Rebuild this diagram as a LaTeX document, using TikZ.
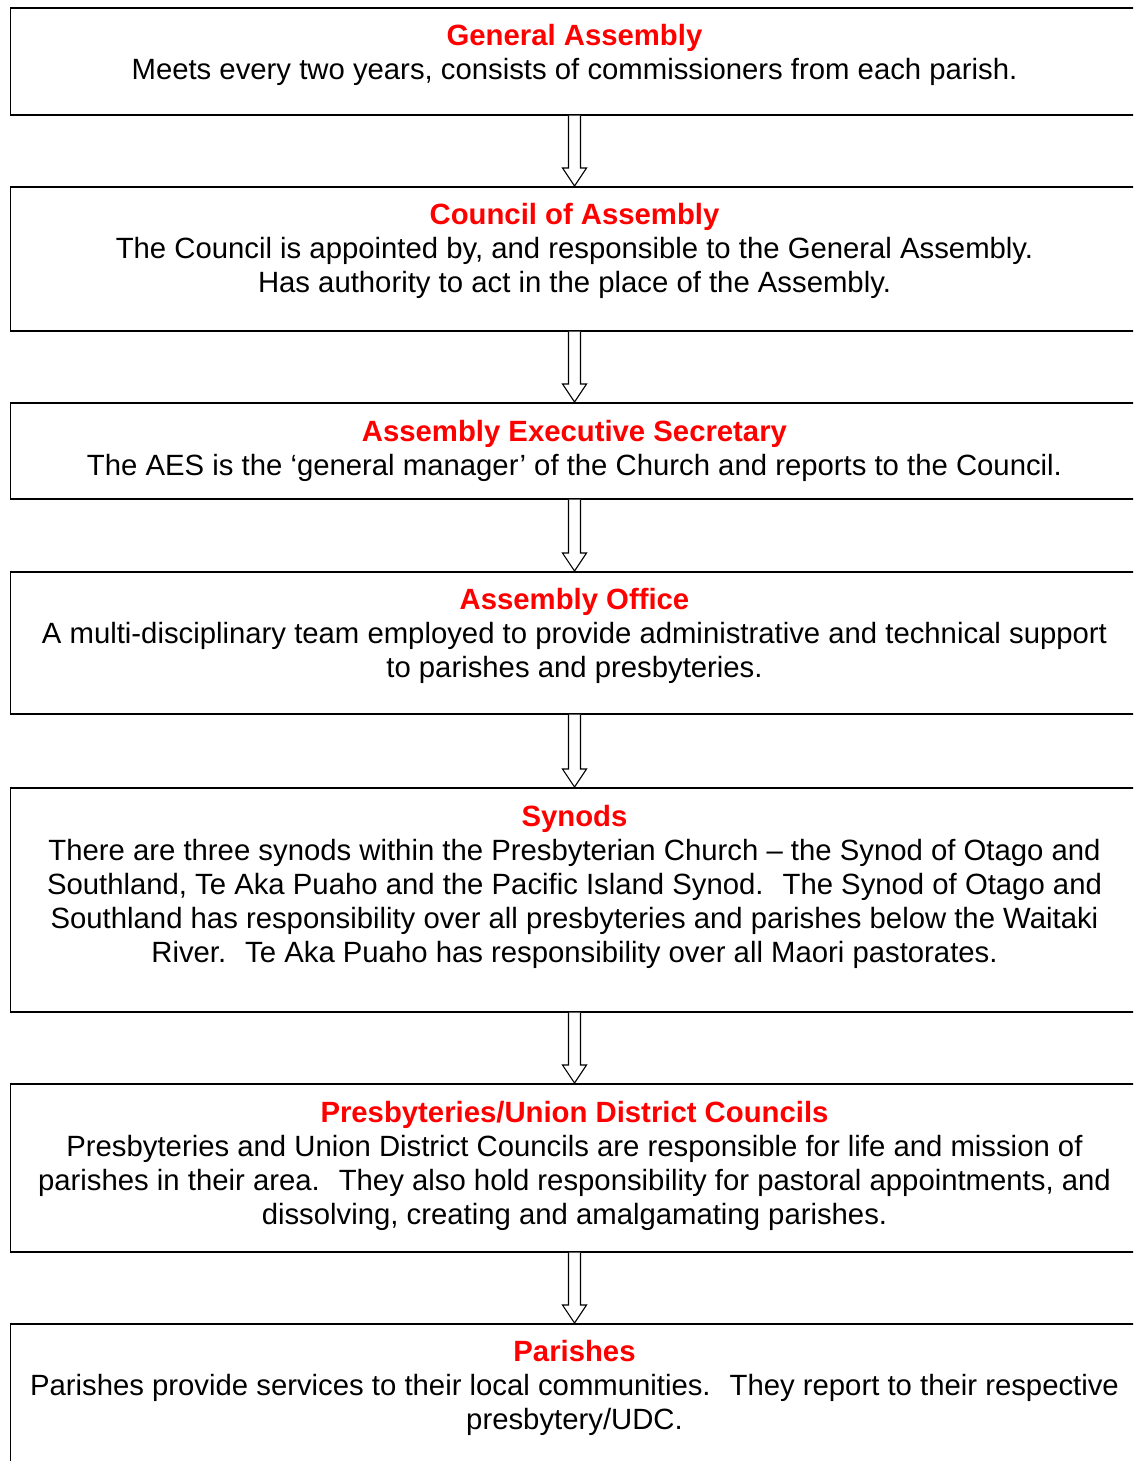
\documentclass[tikz,border=0pt]{standalone}
\usepackage{fontspec}
\setmainfont{Liberation Sans}
\usetikzlibrary{calc}
\definecolor{titlered}{RGB}{255,0,0}
\newcommand{\ttl}[1]{\textcolor{titlered}{\bfseries #1}}
\begin{document}
\begin{tikzpicture}[x=1pt,y=-1pt,
  box/.style={draw=black, line width=1.6pt, minimum width=1128pt, inner sep=0pt, anchor=north, fill=none},
  txt/.style={anchor=base, inner sep=0pt, font=\fontsize{29.3}{34}\selectfont},
  flowarrow/.style={draw=black, line width=1.1pt, fill=white, line join=miter}
]
\useasboundingbox (0,0) rectangle (1133,1461);
\clip (0,0) rectangle (1133,1461);
% boxes (centre x = 574.5)
\node[box, minimum height=107pt] (b1) at (574.5,7) {};
\node[box, minimum height=144pt] (b2) at (574.5,186) {};
\node[box, minimum height=96pt]  (b3) at (574.5,402) {};
\node[box, minimum height=142pt] (b4) at (574.5,571) {};
\node[box, minimum height=224pt] (b5) at (574.5,787) {};
\node[box, minimum height=168pt] (b6) at (574.5,1083) {};
\node[box, minimum height=200pt] (b7) at (574.5,1323) {};
% texts
\def\tt#1{\setlength{\tabcolsep}{0pt}\begin{tabular}[t]{c}#1\end{tabular}}
\node[txt] (t1) at ($(b1.north)+(0,39)$) {\tt{\ttl{General Assembly}\\Meets every two years, consists of commissioners from each parish.}};
\node[txt] (t2) at ($(b2.north)+(0,38)$) {\tt{\ttl{Council of Assembly}\\The Council is appointed by, and responsible to the General Assembly.\\Has authority to act in the place of the Assembly.}};
\node[txt] (t3) at ($(b3.north)+(0,39)$) {\tt{\ttl{Assembly Executive Secretary}\\The AES is the ‘general manager’ of the Church and reports to the Council.}};
\node[txt] (t4) at ($(b4.north)+(0,38.5)$) {\tt{\ttl{Assembly Office}\\A multi-disciplinary team employed to provide administrative and technical support\\to parishes and presbyteries.}};
\node[txt] (t5) at ($(b5.north)+(0,39)$) {\tt{\ttl{Synods}\\There are three synods within the Presbyterian Church – the Synod of Otago and\\Southland, Te Aka Puaho and the Pacific Island Synod.~ The Synod of Otago and\\Southland has responsibility over all presbyteries and parishes below the Waitaki\\River.~ Te Aka Puaho has responsibility over all Maori pastorates.}};
\node[txt] (t6) at ($(b6.north)+(0,39)$) {\tt{\ttl{Presbyteries/Union District Councils}\\Presbyteries and Union District Councils are responsible for life and mission of\\parishes in their area.~ They also hold responsibility for pastoral appointments, and\\dissolving, creating and amalgamating parishes.}};
\node[txt] (t7) at ($(b7.north)+(0,38)$) {\tt{\ttl{Parishes}\\Parishes provide services to their local communities.~ They report to their respective\\presbytery/UDC.}};
% block arrows
\foreach \a/\b in {b1/b2,b2/b3,b3/b4,b4/b5,b5/b6,b6/b7}{
  \draw[flowarrow] ($(\a.south)+(-6,0)$) -- ($(\b.north)+(-6,-18)$) -- ($(\b.north)+(-12,-18)$) -- (\b.north)
    -- ($(\b.north)+(12,-18)$) -- ($(\b.north)+(6,-18)$) -- ($(\a.south)+(6,0)$);
}
\end{tikzpicture}
\end{document}
